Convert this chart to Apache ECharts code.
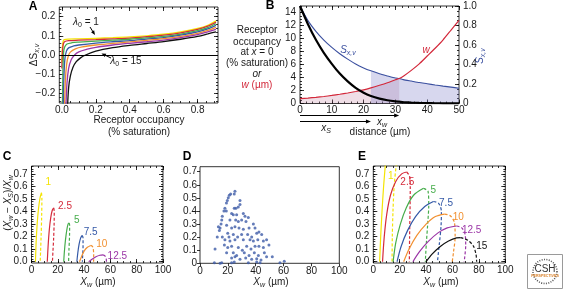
<!DOCTYPE html>
<html>
<head>
<meta charset="utf-8">
<script src="https://cdn.jsdelivr.net/npm/echarts@6/dist/echarts.min.js"></script>
<style>html,body{margin:0;padding:0;background:#fff}#main{width:564px;height:290px}</style>
</head>
<body>
<div id="main"></div>
<script>
// ---------- panel A : delta S vs receptor occupancy, one curve per lambda0 ----------
var aL1   = [[0,-0.04],[0.003,0.04],[0.007,0.07],[0.015,0.08],[0.04,0.083],[0.1,0.084],[0.2,0.087],[0.3,0.09],[0.4,0.094],[0.5,0.1],[0.6,0.108],[0.7,0.12],[0.8,0.138],[0.86,0.155],[0.908,0.178]];
var aL25  = [[0,-0.07],[0.004,0.02],[0.009,0.058],[0.018,0.07],[0.04,0.075],[0.1,0.077],[0.2,0.08],[0.3,0.084],[0.4,0.088],[0.5,0.095],[0.6,0.103],[0.7,0.115],[0.8,0.133],[0.86,0.15],[0.908,0.171]];
var aL5   = [[0.003,-0.3],[0.006,-0.1],[0.01,0.01],[0.016,0.04],[0.03,0.057],[0.06,0.064],[0.1,0.067],[0.2,0.072],[0.3,0.077],[0.4,0.082],[0.5,0.089],[0.6,0.097],[0.7,0.109],[0.8,0.127],[0.86,0.143],[0.908,0.163]];
var aL75  = [[0.008,-0.3],[0.012,-0.12],[0.018,-0.02],[0.027,0.02],[0.04,0.037],[0.07,0.047],[0.1,0.052],[0.2,0.062],[0.3,0.069],[0.4,0.075],[0.5,0.083],[0.6,0.091],[0.7,0.103],[0.8,0.12],[0.86,0.136],[0.908,0.154]];
var aL10  = [[0.015,-0.3],[0.021,-0.13],[0.028,-0.05],[0.038,-0.005],[0.05,0.015],[0.08,0.032],[0.12,0.042],[0.2,0.052],[0.3,0.061],[0.4,0.068],[0.5,0.076],[0.6,0.085],[0.7,0.097],[0.8,0.113],[0.86,0.128],[0.908,0.144]];
var aL125 = [[0.023,-0.3],[0.03,-0.15],[0.04,-0.07],[0.055,-0.025],[0.075,0.0],[0.1,0.016],[0.15,0.03],[0.2,0.04],[0.3,0.052],[0.4,0.061],[0.5,0.069],[0.6,0.078],[0.7,0.09],[0.8,0.106],[0.86,0.12],[0.908,0.133]];
var aL15  = [[0.032,-0.3],[0.04,-0.17],[0.05,-0.11],[0.065,-0.065],[0.085,-0.035],[0.11,-0.015],[0.14,0.0],[0.2,0.02],[0.3,0.038],[0.4,0.05],[0.5,0.06],[0.6,0.07],[0.7,0.082],[0.8,0.097],[0.86,0.11],[0.908,0.121]];
var aXTicks = [0, 0.2, 0.4, 0.6, 0.8];
var aYTicks = [-0.2, -0.1, 0, 0.1, 0.2];

// ---------- panel B : profiles along distance ----------
var bX     = [0, 2.5, 5, 7.5, 10, 12.5, 15, 17.5, 20, 22.3, 25, 27.5, 30, 31.2, 32.5, 35, 37.5, 40, 42.5, 45, 47.5, 50];
var bOccup = [15, 12.2, 9.8, 7.8, 6.1, 4.6, 3.4, 2.4, 1.65, 1.15, 0.75, 0.5, 0.33, 0.28, 0.22, 0.14, 0.09, 0.06, 0.04, 0.03, 0.02, 0.015];
var bW     = [0.75, 0.84, 0.95, 1.08, 1.24, 1.42, 1.62, 1.85, 2.1, 2.4, 2.8, 3.2, 3.65, 3.85, 4.2, 5.1, 6.1, 7.3, 8.5, 9.8, 11.3, 12.8];
var bS     = [1.0, 0.85, 0.74, 0.65, 0.575, 0.51, 0.455, 0.405, 0.365, 0.335, 0.305, 0.283, 0.262, 0.257, 0.245, 0.23, 0.215, 0.203, 0.19, 0.178, 0.168, 0.157];
var bXS = 22.3, bXW = 31.2;
var bXTicks = [0, 10, 20, 30, 40, 50];
var bLeftTicks = [0, 2, 4, 6, 8, 10, 12, 14];
var bRightTicks = [0, 0.2, 0.4, 0.6, 0.8, 1.0];

// ---------- panel C : (Xw - Xs)/Xw loops ----------
var cLabels = ['1', '2.5', '5', '7.5', '10', '12.5'];
var cSolid1   = [[3,0],[3.5,0.15],[4.3,0.3],[5.3,0.42],[6.5,0.51],[7.6,0.55]];
var cDash1    = [[7.6,0.55],[7.9,0.5],[7.7,0.35],[7.3,0.2],[6.9,0.08],[6.6,0]];
var cSolid25  = [[12,0],[12.6,0.12],[13.5,0.25],[14.6,0.35],[15.8,0.41],[16.9,0.43]];
var cDash25   = [[16.9,0.43],[17.3,0.4],[17.2,0.3],[16.8,0.18],[16.3,0.08],[15.9,0]];
var cSolid5   = [[24.5,0],[25,0.08],[25.8,0.17],[26.8,0.25],[27.8,0.3],[28.6,0.31]];
var cDash5    = [[28.6,0.31],[29,0.29],[28.9,0.2],[28.5,0.1],[28.2,0]];
var cSolid75  = [[34.5,0],[35.2,0.07],[36.2,0.14],[37.4,0.19],[38.6,0.21]];
var cDash75   = [[38.6,0.21],[39.2,0.19],[39.2,0.12],[38.9,0.05],[38.7,0]];
var cSolid10  = [[36.5,0],[38,0.04],[40,0.085],[42.5,0.115],[45,0.13]];
var cDash10   = [[45,0.13],[46.5,0.12],[47.2,0.08],[47.3,0.04],[47.2,0]];
var cSolid125 = [[43.5,0],[46,0.02],[49,0.04],[52,0.052],[54.5,0.055]];
var cDash125  = [[54.5,0.055],[56,0.045],[56.8,0.025],[57,0]];

// ---------- panel D : scatter of measured points ----------
var dPoints = [
  [25.1,0.55],[24.6,0.53],[22,0.53],[21,0.52],[20.3,0.5],[19.6,0.48],[19,0.46],
  [28.7,0.48],[28.7,0.45],[27.5,0.43],[24.6,0.42],[25.8,0.42],
  [17.9,0.42],[17.2,0.4],[18.9,0.4],[22.7,0.38],[23.9,0.37],[26.3,0.37],[31.1,0.38],[32.3,0.36],[34.7,0.35],
  [16,0.36],[15.6,0.33],[15.1,0.3],[21.5,0.33],[25.6,0.33],[27.5,0.32],[29.9,0.33],[33,0.32],[38.3,0.3],
  [14.4,0.27],[13.9,0.25],[13.2,0.28],[19.1,0.29],[22.7,0.27],[25.1,0.28],[28,0.27],[31.1,0.26],[35.2,0.27],[39.5,0.27],
  [12.4,0.2],[16,0.2],[19.9,0.23],[20.8,0.2],[23.9,0.22],[27,0.2],[29.9,0.22],[34.2,0.22],[37.1,0.2],[40.7,0.23],[42.3,0.24],[44.3,0.22],
  [17.9,0.18],[21.5,0.17],[25.1,0.18],[31.1,0.18],[35.9,0.18],[38.3,0.17],[41.5,0.18],[45.5,0.17],[47.8,0.18],
  [10.8,0.11],[17.5,0.14],[19.9,0.12],[22.7,0.13],[27.5,0.12],[30.4,0.1],[33.5,0.13],[36.6,0.11],[39.5,0.13],[42.3,0.13],[45.5,0.12],[49.5,0.14],
  [19.1,0.08],[23.9,0.08],[26.3,0.06],[31.8,0.08],[35.2,0.06],[39,0.08],[41.9,0.06],[46.2,0.08],[47.8,0.05],[51.9,0.05],
  [22.7,0.04],[25.1,0.05],[28.7,0.03],[32.8,0.04],[37.1,0.03],[40.7,0.035],[43.8,0.025],
  [10.3,0.005],[14.4,0],[15.6,0.005],[22.7,0.005],[24.6,0.01],[34.7,0.005],[40.7,0.01],[43.1,0.005],[57.4,0.005],[60.5,0.015]
];

// ---------- panel E : loops with larger w ----------
var eLabels = ['1', '2.5', '5', '7.5', '10', '12.5', '15'];
var eSolid1   = [[4.8,0],[5.6,0.2],[6.6,0.4],[7.8,0.6],[9.2,0.78],[10.2,0.9]];
var eDash1    = [[19.5,0.9],[17.5,0.78],[15.8,0.6],[14.9,0.4],[14.4,0.2],[14.2,0]];
var eSolid25  = [[7,0],[8.3,0.2],[10.2,0.38],[13,0.53],[17,0.64],[21.5,0.7],[25.3,0.715]];
var eDash25   = [[25.3,0.715],[27.5,0.68],[28,0.58],[27.8,0.4],[27.5,0.2],[27.3,0]];
var eSolid5   = [[15,0],[17,0.15],[20.5,0.3],[25,0.43],[30.5,0.53],[38,0.585]];
var eDash5    = [[38,0.585],[41.5,0.56],[42,0.45],[41.2,0.3],[40.2,0.15],[39.4,0]];
var eSolid75  = [[18,0],[21,0.12],[26,0.25],[32,0.36],[39,0.44],[45.5,0.48]];
var eDash75   = [[45.5,0.48],[49.5,0.465],[51.6,0.4],[51.3,0.28],[50,0.14],[48.6,0]];
var eSolid10  = [[23,0],[27,0.1],[33,0.21],[40,0.3],[47,0.36],[54,0.38]];
var eDash10   = [[54,0.38],[58.5,0.365],[61.5,0.31],[62,0.2],[60.8,0.08],[59.8,0]];
var eSolid125 = [[30,0],[35,0.08],[41.5,0.16],[49,0.23],[56,0.27],[63,0.285]];
var eDash125  = [[63,0.285],[67,0.27],[69.5,0.22],[70,0.13],[69.3,0.04],[68.8,0]];
var eSolid15  = [[40,0],[44.5,0.06],[50.5,0.12],[57,0.165],[63,0.19],[66,0.192]];
var eDash15   = [[66,0.192],[71.5,0.172],[75.8,0.125],[77.8,0.06],[78.3,0]];
var cdeXTicks = [0, 20, 40, 60, 80, 100];
var cdeYTicks = [0, 0.1, 0.2, 0.3, 0.4, 0.5, 0.6, 0.7];

var lamColors = ['#f4e404', '#d52b3b', '#46ad4b', '#3459a7', '#f19030', '#9b35a6', '#111111'];
var FONT = 'Liberation Sans';

var G = {
  A: {left: 59.3, top: 7, width: 158.7, height: 96, xMin: -0.015, xMax: 0.92, yMin: -0.25, yMax: 0.25},
  B: {left: 300, top: 6, width: 159, height: 97.5, xMin: 0, xMax: 50, yMin: 0, yMax: 15},
  C: {left: 31.5, top: 166, width: 131.5, height: 97, xMin: 0, xMax: 100, yMin: -0.01, yMax: 0.763},
  D: {left: 200, top: 166.7, width: 139.3, height: 96.6, xMin: 0, xMax: 100, yMin: 0, yMax: 0.738},
  E: {left: 373.3, top: 166, width: 132, height: 97, xMin: 0, xMax: 100, yMin: -0.01, yMax: 0.763}
};

var option = {animation: false, backgroundColor: '#fff', grid: [], xAxis: [], yAxis: [], series: [], graphic: []};

['A', 'B', 'C', 'D', 'E'].forEach(function (k) {
  var g = G[k];
  option.grid.push({left: g.left, top: g.top, width: g.width, height: g.height, show: true,
    borderColor: '#000', borderWidth: 0.8, backgroundColor: 'transparent',
    containLabel: false, outerBoundsMode: 'none'});
});

function steps(a, b, s) {
  var out = [];
  for (var v = a; v <= b + 1e-9; v += s) out.push(+v.toFixed(6));
  return out;
}

// builds the frame axes of one side pair; returns index of the labelled axis
function frameAxes(kind, gi, min, max, majors, minors, fmt, opt) {
  opt = opt || {};
  var arr = kind === 'x' ? option.xAxis : option.yAxis;
  var sides = opt.sides || (kind === 'x' ? ['bottom', 'top'] : ['left', 'right']);
  var first = arr.length;
  sides.forEach(function (pos, k) {
    [majors, minors].forEach(function (vals, m) {
      if (!vals) return;
      arr.push({
        type: 'value', gridIndex: gi, position: pos, min: min, max: max,
        axisLine: {show: false, onZero: false},
        splitLine: {show: false},
        axisTick: {show: true, inside: !opt.outside, length: m ? 2 : (opt.tickLen || 4), customValues: vals,
          lineStyle: {color: '#000', width: 0.8}},
        axisLabel: {show: k === 0 && m === 0, customValues: vals, formatter: fmt,
          margin: opt.margin != null ? opt.margin : (kind === 'x' ? 2 : 4),
          fontFamily: FONT, fontSize: 10, color: '#1a1a1a'}
      });
    });
  });
  return first;
}

function f1(v) { return (v < 0 ? '\u2212' : '') + Math.abs(v).toFixed(1); }
function f0(v) { return String(v); }
function fR(v) { return v === 0 ? '0' : v.toFixed(1); }

// axes
var ax = {};
ax.Ax = frameAxes('x', 0, G.A.xMin, G.A.xMax, aXTicks, steps(0, 0.9, 0.05), f1);
ax.Ay = frameAxes('y', 0, G.A.yMin, G.A.yMax, aYTicks, steps(-0.24, 0.24, 0.02), f1);
ax.Bx = frameAxes('x', 1, 0, 50, bXTicks, steps(0, 50, 2), f0);
ax.ByL = frameAxes('y', 1, 0, 15, bLeftTicks, steps(0, 15, 0.5), f0, {sides: ['left']});
ax.ByR = frameAxes('y', 1, 0, 1, bRightTicks, steps(0, 1, 0.05), fR, {sides: ['right']});
ax.Cx = frameAxes('x', 2, 0, 100, cdeXTicks, steps(0, 100, 5), f0);
ax.Cy = frameAxes('y', 2, G.C.yMin, G.C.yMax, cdeYTicks, steps(0, 0.76, 0.02), f1);
ax.Dx = frameAxes('x', 3, 0, 100, cdeXTicks, null, f0, {sides: ['bottom'], outside: true, tickLen: 3, margin: 3});
ax.Dy = frameAxes('y', 3, 0, G.D.yMax, cdeYTicks, null, function (v) { return v === 0 ? '0' : v.toFixed(1); }, {sides: ['left'], outside: true, tickLen: 3, margin: 3});
ax.Ex = frameAxes('x', 4, 0, 100, cdeXTicks, steps(0, 100, 5), f0);
ax.Ey = frameAxes('y', 4, G.E.yMin, G.E.yMax, cdeYTicks, steps(0, 0.76, 0.02), f1);

function lineSeries(xi, yi, data, color, width, dashed, extra) {
  var s = {type: 'line', xAxisIndex: xi, yAxisIndex: yi, data: data, showSymbol: false, symbol: 'none',
    smooth: 0.3, clip: true, silent: true, z: 3,
    lineStyle: {color: color, width: width, type: dashed ? [3, 2] : 'solid'}};
  for (var k in extra) s[k] = extra[k];
  return s;
}

// A
[aL1, aL25, aL5, aL75, aL10, aL125, aL15].forEach(function (d, i) {
  option.series.push(lineSeries(ax.Ax, ax.Ay, d, lamColors[i], 1.3, false, i === 6 ? {
    markLine: {silent: true, symbol: 'none', label: {show: false}, lineStyle: {color: '#000', width: 1, type: 'solid'}, data: [{yAxis: 0}]}
  } : {}));
});

// B
function zip(xs, ys, from, to) {
  var out = [];
  xs.forEach(function (x, i) { if (x >= from - 1e-9 && x <= to + 1e-9) out.push([x, ys[i]]); });
  return out;
}
option.series.push(lineSeries(ax.Bx, ax.ByL, zip(bX, bW, 0, bXW), 'transparent', 0, false,
  {areaStyle: {color: 'rgba(182,108,142,0.32)', origin: 'start'}, smooth: 0.2, z: 1}));
option.series.push(lineSeries(ax.Bx, ax.ByR, zip(bX, bS, bXS, 50), 'transparent', 0, false,
  {areaStyle: {color: 'rgba(118,118,198,0.42)', origin: 'start'}, smooth: 0.2, z: 1}));
option.series.push(lineSeries(ax.Bx, ax.ByR, zip(bX, bS, 0, 50), '#3a4f9f', 1.1, false, {smooth: 0.2}));
option.series.push(lineSeries(ax.Bx, ax.ByL, zip(bX, bW, 0, 50), '#d3283a', 1.2, false, {smooth: 0.2}));
option.series.push(lineSeries(ax.Bx, ax.ByL, zip(bX, bOccup, 0, 50), '#000', 2.2, false, {smooth: 0.2}));

// C
[[cSolid1, cDash1], [cSolid25, cDash25], [cSolid5, cDash5], [cSolid75, cDash75], [cSolid10, cDash10], [cSolid125, cDash125]]
  .forEach(function (p, i) {
    option.series.push(lineSeries(ax.Cx, ax.Cy, p[0], lamColors[i], 1.2, false));
    option.series.push(lineSeries(ax.Cx, ax.Cy, p[1], lamColors[i], 1.2, true));
  });

// D
option.series.push({type: 'scatter', xAxisIndex: ax.Dx, yAxisIndex: ax.Dy, data: dPoints, symbol: 'circle',
  symbolSize: 3, silent: true, itemStyle: {color: '#3d5ba8'}});

// E
[[eSolid1, eDash1], [eSolid25, eDash25], [eSolid5, eDash5], [eSolid75, eDash75], [eSolid10, eDash10], [eSolid125, eDash125], [eSolid15, eDash15]]
  .forEach(function (p, i) {
    option.series.push(lineSeries(ax.Ex, ax.Ey, p[0], lamColors[i], 1.2, false));
    option.series.push(lineSeries(ax.Ex, ax.Ey, p[1], lamColors[i], 1.2, true));
  });

// ---------- text & annotations ----------
var mctx = document.createElement('canvas').getContext('2d');
function tw(str, size, italic) {
  mctx.font = (italic ? 'italic ' : '') + size + 'px "' + FONT + '"';
  return mctx.measureText(str).width;
}
// parts: [text, size, italic, dy, color]
function richText(x, y, parts, rotation, color) {
  var total = 0;
  parts.forEach(function (p) { total += tw(p[0], p[1], p[2]); });
  var cx = -total / 2, kids = [];
  parts.forEach(function (p) {
    kids.push({type: 'text', x: cx, y: p[3] || 0, silent: true, style: {
      text: p[0], fontFamily: FONT, fontSize: p[1], fontStyle: p[2] ? 'italic' : 'normal',
      fill: p[4] || color || '#1a1a1a', align: 'left', textAlign: 'left', verticalAlign: 'middle', textVerticalAlign: 'middle'}});
    cx += tw(p[0], p[1], p[2]);
  });
  option.graphic.push({type: 'group', x: x, y: y, rotation: rotation || 0, silent: true, children: kids});
}
function label(x, y, str, size, color, extra) {
  var st = {text: str, fontFamily: FONT, fontSize: size, fill: color || '#1a1a1a',
    align: 'center', textAlign: 'center', verticalAlign: 'middle', textVerticalAlign: 'middle'};
  for (var k in extra) st[k] = extra[k];
  option.graphic.push({type: 'text', x: x, y: y, silent: true, style: st});
}
function arrow(x1, y1, x2, y2, color, head) {
  var dx = x2 - x1, dy = y2 - y1, L = Math.sqrt(dx * dx + dy * dy), ux = dx / L, uy = dy / L, h = head || 5;
  option.graphic.push({type: 'line', silent: true, shape: {x1: x1, y1: y1, x2: x2 - ux * h * 0.8, y2: y2 - uy * h * 0.8},
    style: {stroke: color || '#000', lineWidth: 1}});
  option.graphic.push({type: 'polygon', silent: true, shape: {points: [[x2, y2],
    [x2 - ux * h - uy * h * 0.4, y2 - uy * h + ux * h * 0.4], [x2 - ux * h + uy * h * 0.4, y2 - uy * h - ux * h * 0.4]]},
    style: {fill: color || '#000'}});
}
function px(g, x) { return g.left + (x - g.xMin) / (g.xMax - g.xMin) * g.width; }

// panel letters
[['A', 33, 7], ['B', 270, 6], ['C', 7, 157], ['D', 187, 157], ['E', 362, 157]].forEach(function (p) {
  label(p[1], p[2], p[0], 12, '#000', {fontWeight: 'bold'});
});

// A
richText(34, 55, [['\u0394S', 10, false], ['x,v', 7, true, 3]], Math.PI / 2);
label(139, 120.5, 'Receptor occupancy', 10);
label(139, 132, '(% saturation)', 10);
richText(86, 22.5, [['\u03bb', 10, true], ['0', 7, false, 3], [' = 1', 10, false]]);
arrow(90, 27, 95, 35, '#000', 4.5);
richText(126, 61, [['\u03bb', 10, true], ['0', 7, false, 3], [' = 15', 10, false]]);
arrow(111, 58, 101.5, 53.5, '#000', 4.5);

// B
label(257, 30, 'Receptor', 10);
label(257, 42, 'occupancy', 10);
richText(257, 52.5, [['at ', 10, false], ['x', 10, true], [' = 0', 10, false]]);
label(257, 63.5, '(% saturation)', 10);
label(257, 74.5, 'or', 10, '#1a1a1a', {fontStyle: 'italic'});
richText(257, 85.5, [['w', 10, true], [' (\u00b5m)', 10, false]], 0, '#d3283a');
richText(348, 50, [['S', 10, true], ['x,v', 7, true, 3]], 0, '#3a4f9f');
label(426, 50, 'w', 10, '#d3283a', {fontStyle: 'italic'});
richText(480, 56, [['S', 10, true], ['x,v', 7, true, 3]], Math.PI / 2, '#3a4f9f');
arrow(300, 115.5, px(G.B, bXW), 115.5, '#000', 5);
arrow(300, 121.5, px(G.B, bXS), 121.5, '#000', 5);
richText(382, 122, [['x', 10, true], ['w', 7, true, 3]]);
richText(326, 128, [['x', 10, true], ['S', 7, true, 3]]);
label(380, 132, 'distance (\u00b5m)', 10);

// C
richText(8, 203, [['(', 10, false], ['X', 10, true], ['w', 7, true, 3], [' \u2212 ', 10, false], ['X', 10, true], ['S', 7, true, 3],
  [')/', 10, false], ['X', 10, true], ['w', 7, true, 3]], Math.PI / 2);
[[48.3, 182.7], [65, 206], [76.7, 220], [90.7, 232.7], [101.7, 244], [117.3, 256]].forEach(function (p, i) {
  label(p[0], p[1], cLabels[i], 10, lamColors[i]);
});
[98, 271, 441].forEach(function (x) {
  richText(x, 282, [['X', 10, true], ['w', 7, true, 3], [' (\u00b5m)', 10, false]]);
});

// E
[[390.7, 176.7], [407.3, 182.7], [433.3, 190.7], [446, 203.3], [458.3, 217.7], [471.7, 230], [481.7, 246]].forEach(function (p, i) {
  label(p[0], p[1], eLabels[i], 10, lamColors[i]);
});

// CSH logo
option.graphic.push({type: 'rect', silent: true, shape: {x: 527.5, y: 254.5, width: 35, height: 34},
  style: {fill: '#fff', stroke: '#9a9a9a', lineWidth: 1}});
option.graphic.push({type: 'circle', silent: true, shape: {cx: 545, cy: 271.5, r: 12},
  style: {fill: 'none', stroke: '#555', lineWidth: 1.6, lineDash: [1, 1.4]}});
label(545, 269, 'CSH', 10, '#333');
label(545, 276, 'PERSPECTIVES', 3.6, '#d9822b', {fontWeight: 'bold'});

var chart = echarts.init(document.getElementById('main'), null, {renderer: 'canvas'});
chart.setOption(option);
</script>
</body>
</html>
